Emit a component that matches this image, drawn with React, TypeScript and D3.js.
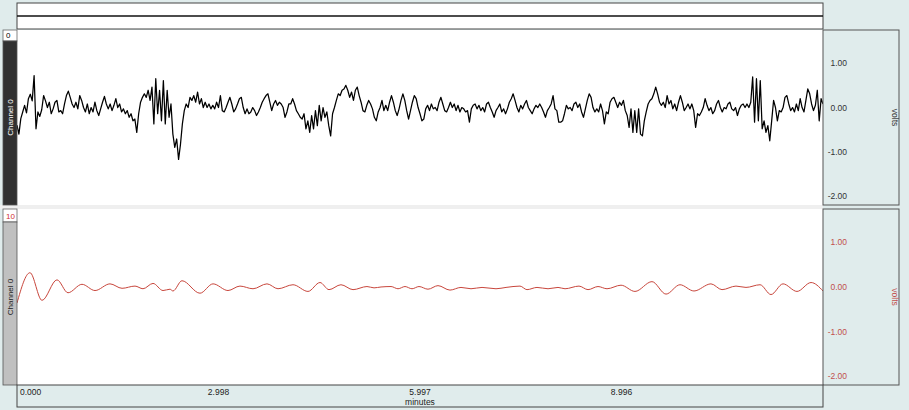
import React from "react";
import * as d3 from "d3";

// ---- data ----
const timeDomain = [0, 11.994]; // minutes
const xTickValues = [0, 2.9985, 5.997, 8.9955];
const xTickLabels = ["0.000", "2.998", "5.997", "8.996"];
const yTickValues = [1, 0, -1, -2];
const yTickLabels = ["1.00", "0.00", "-1.00", "-2.00"];
const voltDomain = [-2.2, 1.75];

// Channel 0 raw (volts), evenly sampled across the record
const rawSeg1 = [-0.4, -0.6, -0.25, -0.1, 0.05, -0.12, 0.2, 0.3, 0.15, 0.72, -0.48, -0.1, -0.2, -0.05, 0.27, 0.15, 0, 0.12, -0.14, -0.03, 0.12, 0.16, -0.1, -0.07, -0.14, 0.08, 0.27, 0.37, 0.23, 0.08, 0, 0.12, -0.03, 0.27, 0.16, 0, -0.1, 0.08, -0.14, 0, -0.1, 0.12, -0.07, -0.18, -0.03, 0.12, 0.25, 0.08, -0.03, 0.08, -0.07, 0.05, 0.2, 0, 0.08, -0.1, -0.03, -0.14, -0.07, -0.22, -0.14, -0.3, -0.26, -0.56, -0.14, 0.12, 0.23, 0.31, 0.23, 0.39, 0.16, 0.46, -0.37, 0.65, -0.14, 0.39, -0.3, 0.61, -0.37, 0.39, -0.22, 0.08, -0.6, -0.9, -0.71, -1.17, -0.83, -0.37, -0.07, 0.08, 0, 0.23, 0.16, 0.27, 0.12, 0.35, 0.08, 0.2, 0, 0.12, 0, 0.08, -0.03, 0.05, -0.03, 0.12, 0, 0.27, -0.07, -0.1, 0, 0.12, 0.23, 0.08, -0.1, -0.03, 0.08, 0.2, 0.23, 0, -0.14, -0.03, -0.14, -0.1, 0, -0.07, -0.18, -0.1, 0, 0.12, 0.2, 0.27, 0.31, 0.12, -0.07, 0.08, 0.16, 0.05, 0.12, 0.08, 0, -0.22, -0.1, 0.08];
const rawSeg2 = [0.08, 0.2, 0.08, -0.07, -0.14, -0.22, -0.26, -0.14, -0.48, -0.3, -0.56, -0.18, -0.48, -0.07, -0.41, 0.05, -0.3, 0, -0.22, -0.1, -0.41, -0.64, -0.14, 0, 0.16, 0.31, 0.27, 0.39, 0.42, 0.5, 0.39, 0.23, 0.35, 0.16, 0.39, 0.46, 0.27, 0.12, -0.07, -0.1, 0.05, 0.16, 0.08, -0.03, -0.22, -0.3, -0.1, 0, 0.16, -0.07, 0.05, -0.07, 0.12, 0.27, 0.12, -0.07, -0.18, -0.03, 0.16, 0.31, 0.16, -0.07, -0.26, -0.07, 0.12, 0.27, 0.2, 0, -0.14, -0.3, -0.26, -0.03, 0.05, -0.07, 0.08, -0.03, 0, -0.07, 0.12, 0.23, 0.08, -0.07, -0.1, 0, 0.12, 0, 0.08, -0.07, 0.05, -0.1, 0, -0.03, -0.1, -0.07, -0.33, -0.03, 0.05, 0.08, -0.03, 0.05, -0.07, 0, -0.1, 0.08, 0.12, 0, -0.1, -0.22, -0.07, 0, 0.08, -0.1, -0.03, -0.14, -0.03, 0.12, 0.2, 0.31, 0.16, 0, -0.1, 0.05, -0.03, 0.08, 0.16, 0, -0.07, -0.14, -0.03, 0.05, 0, 0.08, 0, -0.1, -0.22, -0.07, 0, 0.08, 0.27, -0.03, -0.07, -0.33];
const rawSeg3 = [-0.33, -0.3, -0.14, 0.05, -0.03, 0, -0.07, 0.08, 0.12, 0, 0.08, -0.1, -0.22, -0.03, 0.16, 0.31, 0.23, 0, -0.1, -0.03, -0.1, 0.08, -0.07, -0.37, -0.1, -0.14, 0.12, 0.2, 0.23, 0.12, 0, 0.12, 0.05, 0.16, -0.07, -0.18, -0.45, -0.03, -0.56, -0.07, -0.56, -0.03, -0.6, -0.64, -0.3, -0.1, 0.08, 0.16, 0.2, 0.31, 0.46, 0.31, 0.12, 0.05, 0.12, 0, 0.27, 0.08, 0.16, -0.03, 0.08, -0.07, 0.12, 0.27, 0.12, -0.07, 0, 0.08, -0.03, 0.08, -0.07, -0.45, -0.14, -0.18, -0.1, 0, 0.2, 0.05, -0.07, 0, -0.14, -0.07, 0.08, 0.16, 0, -0.1, 0, -0.03, 0.08, 0.12, -0.03, -0.07, 0, -0.18, -0.03, 0.05, 0.08, 0, 0.08, 0, 0.12, 0.69, -0.33, 0.65, -0.3, 0.61, -0.48, -0.3, -0.56, -0.41, -0.75, -0.3, 0.16, 0, -0.3, -0.07, -0.1, 0, 0.23, 0.27, 0.08, -0.07, 0, -0.1, 0.08, -0.07, 0.2, 0, -0.1, 0.16, 0.42, 0.31, 0.08, -0.07, 0.05, 0.39, -0.3, 0.2, 0.08];
const rawValues = [...rawSeg1, ...rawSeg2, ...rawSeg3];

// Channel 0 filtered: turning points (minutes, volts)
const filtTimes = [0, 0.193, 0.372, 0.595, 0.759, 0.967, 1.161, 1.384, 1.563, 1.756, 1.875, 2.024, 2.173, 2.277, 2.321, 2.455, 2.723, 2.917, 3.14, 3.318, 3.512, 3.72, 3.884, 4.107, 4.33, 4.509, 4.643, 4.821, 5.0, 5.208, 5.313, 5.417, 5.566, 5.67, 5.774, 5.878, 5.982, 6.116, 6.265, 6.443, 6.607, 6.756, 6.92, 7.128, 7.277, 7.485, 7.589, 7.738, 7.902, 8.051, 8.155, 8.363, 8.497, 8.646, 8.78, 8.988, 9.196, 9.449, 9.658, 9.866, 10.074, 10.327, 10.491, 10.699, 10.848, 11.057, 11.22, 11.399, 11.607, 11.816, 11.994];
const filtValues = [-0.36, 0.32, -0.3, 0.16, -0.13, 0.06, -0.08, 0.07, -0.03, 0.02, -0.04, 0.08, -0.08, -0.05, -0.09, 0.14, -0.14, 0.07, -0.08, 0.02, -0.04, 0.07, -0.04, 0.05, -0.1, 0.1, -0.06, 0.05, -0.06, 0.01, -0.02, 0.0, 0.01, -0.04, 0.01, -0.04, 0.01, -0.05, 0.03, -0.07, -0.01, -0.04, -0.01, -0.04, -0.01, 0.02, -0.06, -0.01, -0.04, -0.01, -0.04, 0.02, -0.06, 0.01, -0.04, 0.04, -0.1, 0.12, -0.16, 0.05, -0.09, 0.07, -0.06, 0.02, -0.01, 0.05, -0.17, 0.07, -0.1, 0.1, -0.09];

const FONT = "'Liberation Sans', Arial, sans-serif";
const BG = "#e0ecec";
const RED = "#c8463c";
const REDTXT = "#c0504d";

export default function App() {
  const L = 17, R = 823, AX = 899;
  const p1 = { top: 30, bottom: 205 };
  const p2 = { top: 209, bottom: 385 };

  const x = d3.scaleLinear().domain(timeDomain).range([L, R]);
  const y1 = d3.scaleLinear().domain(voltDomain).range([p1.bottom, p1.top]);
  const y2 = d3.scaleLinear().domain(voltDomain).range([p2.bottom, p2.top]);

  const n = rawValues.length;
  const tRaw = (i: number) => timeDomain[0] + (i / (n - 1)) * (timeDomain[1] - timeDomain[0]);
  const rawLine = d3
    .line<number>()
    .x((_, i) => x(tRaw(i)))
    .y((d) => y1(d));
  const filtLine = d3
    .line<number>()
    .x((_, i) => x(filtTimes[i]))
    .y((d) => y2(d))
    .curve(d3.curveMonotoneX);

  const rightAxis = (p: { top: number; bottom: number }, ys: any, color: string) => (
    <g>
      <rect x={R} y={p.top} width={AX - R} height={p.bottom - p.top} fill={BG} stroke="#555" strokeWidth={1} />
      {yTickValues.map((v, i) => (
        <text key={i} x={847} y={ys(v)} dy="0.35em" textAnchor="end" fontSize={8.5} fill={color} fontFamily={FONT}>
          {yTickLabels[i]}
        </text>
      ))}
      <text
        transform={`translate(${895},${(p.top + p.bottom) / 2}) rotate(90)`}
        textAnchor="middle"
        dy="0.35em"
        fontSize={8.5}
        fill={color}
        fontFamily={FONT}
      >
        volts
      </text>
    </g>
  );

  const leftStrip = (p: { top: number; bottom: number }, label: string, labelColor: string, stripFill: string, textFill: string, boxH: number) => (
    <g>
      <rect x={3} y={p.top} width={L - 3} height={boxH} fill="#fff" stroke="#666" strokeWidth={0.8} />
      <text x={6} y={p.top + boxH - 3} fontSize={8} fill={labelColor} fontFamily={FONT}>
        {label}
      </text>
      <rect x={3} y={p.top + boxH} width={L - 3} height={p.bottom - p.top - boxH} fill={stripFill} stroke="#555" strokeWidth={0.8} />
      <text
        transform={`translate(${10.5},${(p.top + p.bottom) / 2}) rotate(-90)`}
        textAnchor="middle"
        dy="0.35em"
        fontSize={8}
        fill={textFill}
        fontFamily={FONT}
      >
        Channel 0
      </text>
    </g>
  );

  return (
    <svg width={909} height={410} style={{ position: "absolute", left: 0, top: 0 }}>
      <defs>
        <clipPath id="c1">
          <rect x={L} y={p1.top} width={R - L} height={p1.bottom - p1.top} />
        </clipPath>
        <clipPath id="c2">
          <rect x={L} y={p2.top} width={R - L} height={p2.bottom - p2.top} />
        </clipPath>
      </defs>
      <rect x={0} y={0} width={909} height={410} fill={BG} />
      {/* gap between panels */}
      <rect x={0} y={p1.bottom} width={R} height={p2.top - p1.bottom} fill="#efefef" />

      {/* top overview box */}
      <rect x={L} y={3} width={R - L} height={26} fill="#fff" stroke="#444" strokeWidth={1} />
      <line x1={L} x2={R} y1={16} y2={16} stroke="#111" strokeWidth={1.6} />

      {/* panel 1 */}
      <rect x={L} y={p1.top} width={R - L} height={p1.bottom - p1.top} fill="#fff" />
      <path d={rawLine(rawValues) || ""} fill="none" stroke="#000" strokeWidth={1.25} clipPath="url(#c1)" strokeLinejoin="round" />
      {leftStrip(p1, "0", "#000", "#313131", "#fff", 11)}
      {rightAxis(p1, y1, "#333")}

      {/* panel 2 */}
      <rect x={L} y={p2.top} width={R - L} height={p2.bottom - p2.top} fill="#fff" />
      <path d={filtLine(filtValues) || ""} fill="none" stroke={RED} strokeWidth={1} clipPath="url(#c2)" />
      {leftStrip(p2, "10", "#d03030", "#c0c0c0", "#222", 13)}
      {rightAxis(p2, y2, REDTXT)}

      {/* bottom time axis */}
      <rect x={L} y={p2.bottom} width={R - L} height={22} fill={BG} stroke="#444" strokeWidth={1} />
      {xTickValues.map((t, i) => (
        <text
          key={i}
          x={i === 0 ? x(t) + 3 : x(t)}
          y={392.5}
          dy="0.35em"
          textAnchor={i === 0 ? "start" : "middle"}
          fontSize={8.5}
          fill="#222"
          fontFamily={FONT}
        >
          {xTickLabels[i]}
        </text>
      ))}
      <text x={x((timeDomain[0] + timeDomain[1]) / 2)} y={402.5} dy="0.35em" textAnchor="middle" fontSize={8.5} fill="#222" fontFamily={FONT}>
        minutes
      </text>
    </svg>
  );
}
